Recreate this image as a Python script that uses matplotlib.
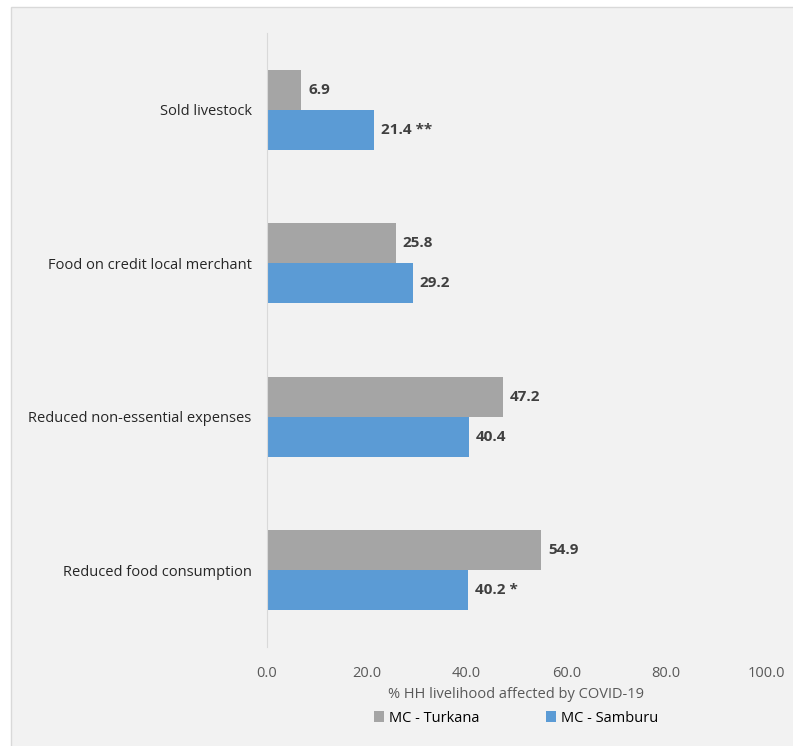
import matplotlib.pyplot as plt
import matplotlib.patches as mpatches
import numpy as np

plt.rc('font', family=['Open Sans', 'DejaVu Sans'], size=10.5)

# Data ========================================================================
categories = ['Sold livestock', 'Food on credit local merchant',
              'Reduced non-essential expenses', 'Reduced food consumption']
turkana = [6.9, 25.8, 47.2, 54.9]
samburu = [21.4, 29.2, 40.4, 40.2]
samburu_sig = ['**', '', '', '*']
xticks = [0, 20, 40, 60, 80, 100]

c_gray = '#a5a5a5'
c_blue = '#5b9bd5'
bg = '#f2f2f2'

fig = plt.figure(figsize=(7.93, 7.46), dpi=100, facecolor='white')
# chart area background
fig.patches.append(mpatches.Rectangle((11 / 793, -0.01), 1.0, (746 - 7) / 746 + 0.01,
                                      transform=fig.transFigure, facecolor=bg,
                                      edgecolor='#d9d9d9', linewidth=1, zorder=-5))

ax = fig.add_axes([267 / 793, (746 - 647) / 746, (766 - 267) / 793, (647 - 33) / 746])
ax.patch.set_alpha(0)

y = np.arange(len(categories))
h = 0.26
bars_t = ax.barh(y - h / 2, turkana, height=h, color=c_gray, label='MC - Turkana')
bars_s = ax.barh(y + h / 2, samburu, height=h, color=c_blue, label='MC - Samburu')

for b, v in zip(bars_t, turkana):
    ax.text(v + 1.4, b.get_y() + b.get_height() / 2, f'{v:.1f}', va='center',
            ha='left', fontweight='bold', color='#404040', fontsize=11)
for b, v, s in zip(bars_s, samburu, samburu_sig):
    lab = f'{v:.1f}' + (f' {s}' if s else '')
    ax.text(v + 1.4, b.get_y() + b.get_height() / 2, lab, va='center',
            ha='left', fontweight='bold', color='#404040', fontsize=11)

ax.set_ylim(len(categories) - 0.5, -0.5)
ax.set_xlim(0, 100)
ax.set_yticks(y)
ax.set_yticklabels(categories, color='#262626')
ax.set_xticks(xticks)
ax.set_xticklabels([f'{t:.1f}' for t in xticks], color='#595959')
ax.tick_params(axis='both', length=0)
ax.tick_params(axis='y', pad=11)
ax.tick_params(axis='x', pad=14)

for s in ['top', 'right', 'bottom']:
    ax.spines[s].set_visible(False)
ax.spines['left'].set_color('#d9d9d9')

ax.set_xlabel('% HH livelihood affected by COVID-19', color='#595959', labelpad=4)

fig.legend(handles=[bars_t, bars_s], loc='center', bbox_to_anchor=(516 / 793, (746 - 718) / 746),
           ncol=2, frameon=False, handlelength=0.7, handleheight=0.7,
           columnspacing=4.6, handletextpad=0.3)

plt.savefig('out.png', dpi=100, facecolor='white')
plt.close()
